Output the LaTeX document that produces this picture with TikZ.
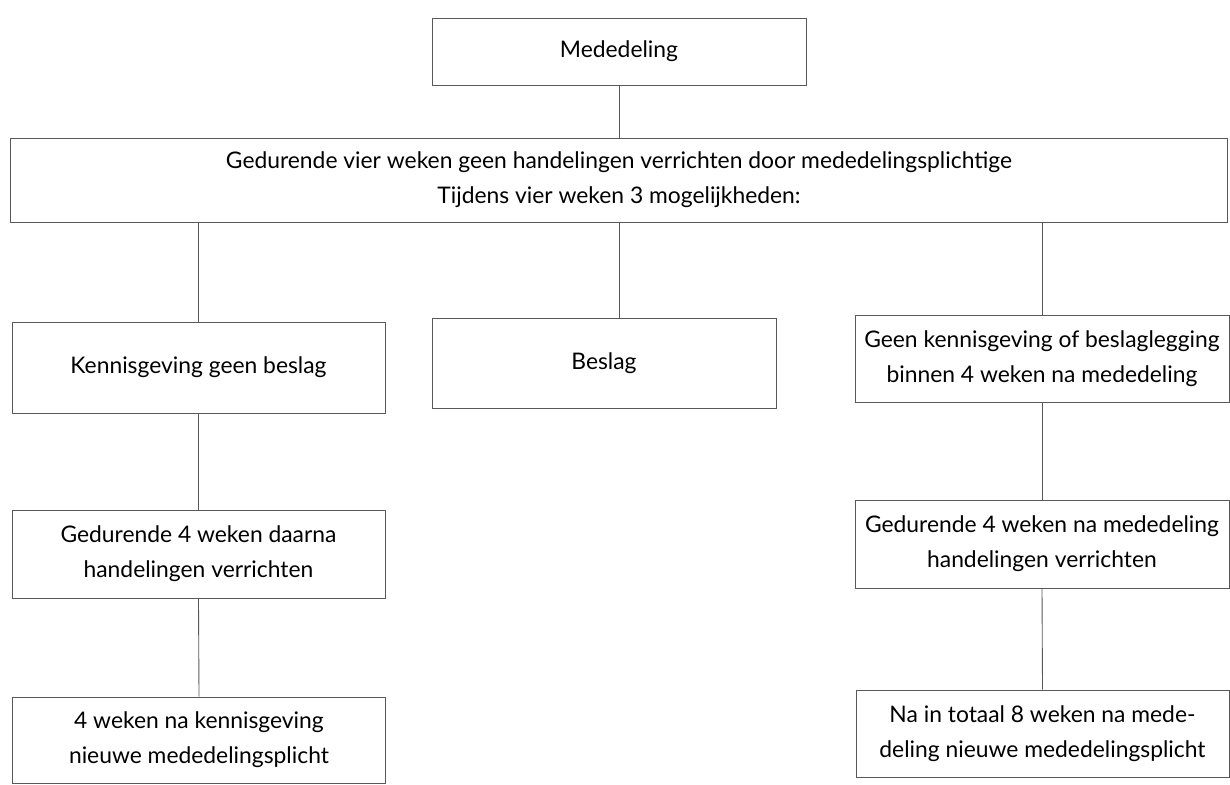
\documentclass[tikz,border=0pt]{standalone}
\usepackage{fontspec}
\setmainfont{Lato}
\begin{document}
\begin{tikzpicture}[x=0.02cm, y=-0.02cm,
    box/.style={draw=gray!70!black, line width=0.5pt, align=center,
        minimum width=7.46cm, minimum height=1.76cm, inner sep=2pt,
        font=\fontsize{13}{20}\selectfont},
    link/.style={draw=gray!70!black, line width=0.5pt}]

    \useasboundingbox (0,0) rectangle (1230,784);

    % bovenste rij
    \node[box, minimum width=7.48cm, minimum height=1.34cm] (med) at (619,51.5) {Mededeling};
    \node[box, minimum width=24.36cm, minimum height=1.68cm] (main) at (619,180)
        {Gedurende vier weken geen handelingen verrichten door mededelingsplichtige\\
         Tijdens vier weken 3 mogelijkheden:};

    % drie mogelijkheden
    \node[box, minimum height=1.82cm] (kg) at (198.5,367.5) {Kennisgeving geen beslag};
    \node[box, minimum width=6.88cm, minimum height=1.80cm] (bs) at (604,363) {Beslag};
    \node[box, minimum width=7.48cm, minimum height=1.74cm] (gk) at (1042,358.5)
        {Geen kennisgeving of beslaglegging\\binnen 4 weken na mededeling};

    % linker kolom
    \node[box] (gd) at (198.5,554) {Gedurende 4 weken daarna\\handelingen verrichten};
    \node[box, minimum height=1.72cm] (vl) at (199,740) {4 weken na kennisgeving\\nieuwe mededelingsplicht};

    % rechter kolom
    \node[box, minimum width=7.48cm] (gn) at (1042,544) {Gedurende 4 weken na mededeling\\handelingen verrichten};
    \node[box, minimum height=1.74cm] (nt) at (1042.5,733.5) {Na in totaal 8 weken na mede-\\deling nieuwe mededelingsplicht};

    % verbindingen
    \draw[link] (med.south) -- (main.north -| med.south);
    \draw[link] (kg.north |- main.south) -- (kg.north);
    \draw[link] (main.south -| med.south) -- (bs.north -| med.south);
    \draw[link] (gk.north |- main.south) -- (gk.north);
    \draw[link] (kg.south) -- (gd.north);
    \draw[link] (gd.south) -- (vl.north);
    \draw[link] (gk.south) -- (gn.north);
    \draw[link] (gn.south) -- (nt.north);

\end{tikzpicture}
\end{document}
